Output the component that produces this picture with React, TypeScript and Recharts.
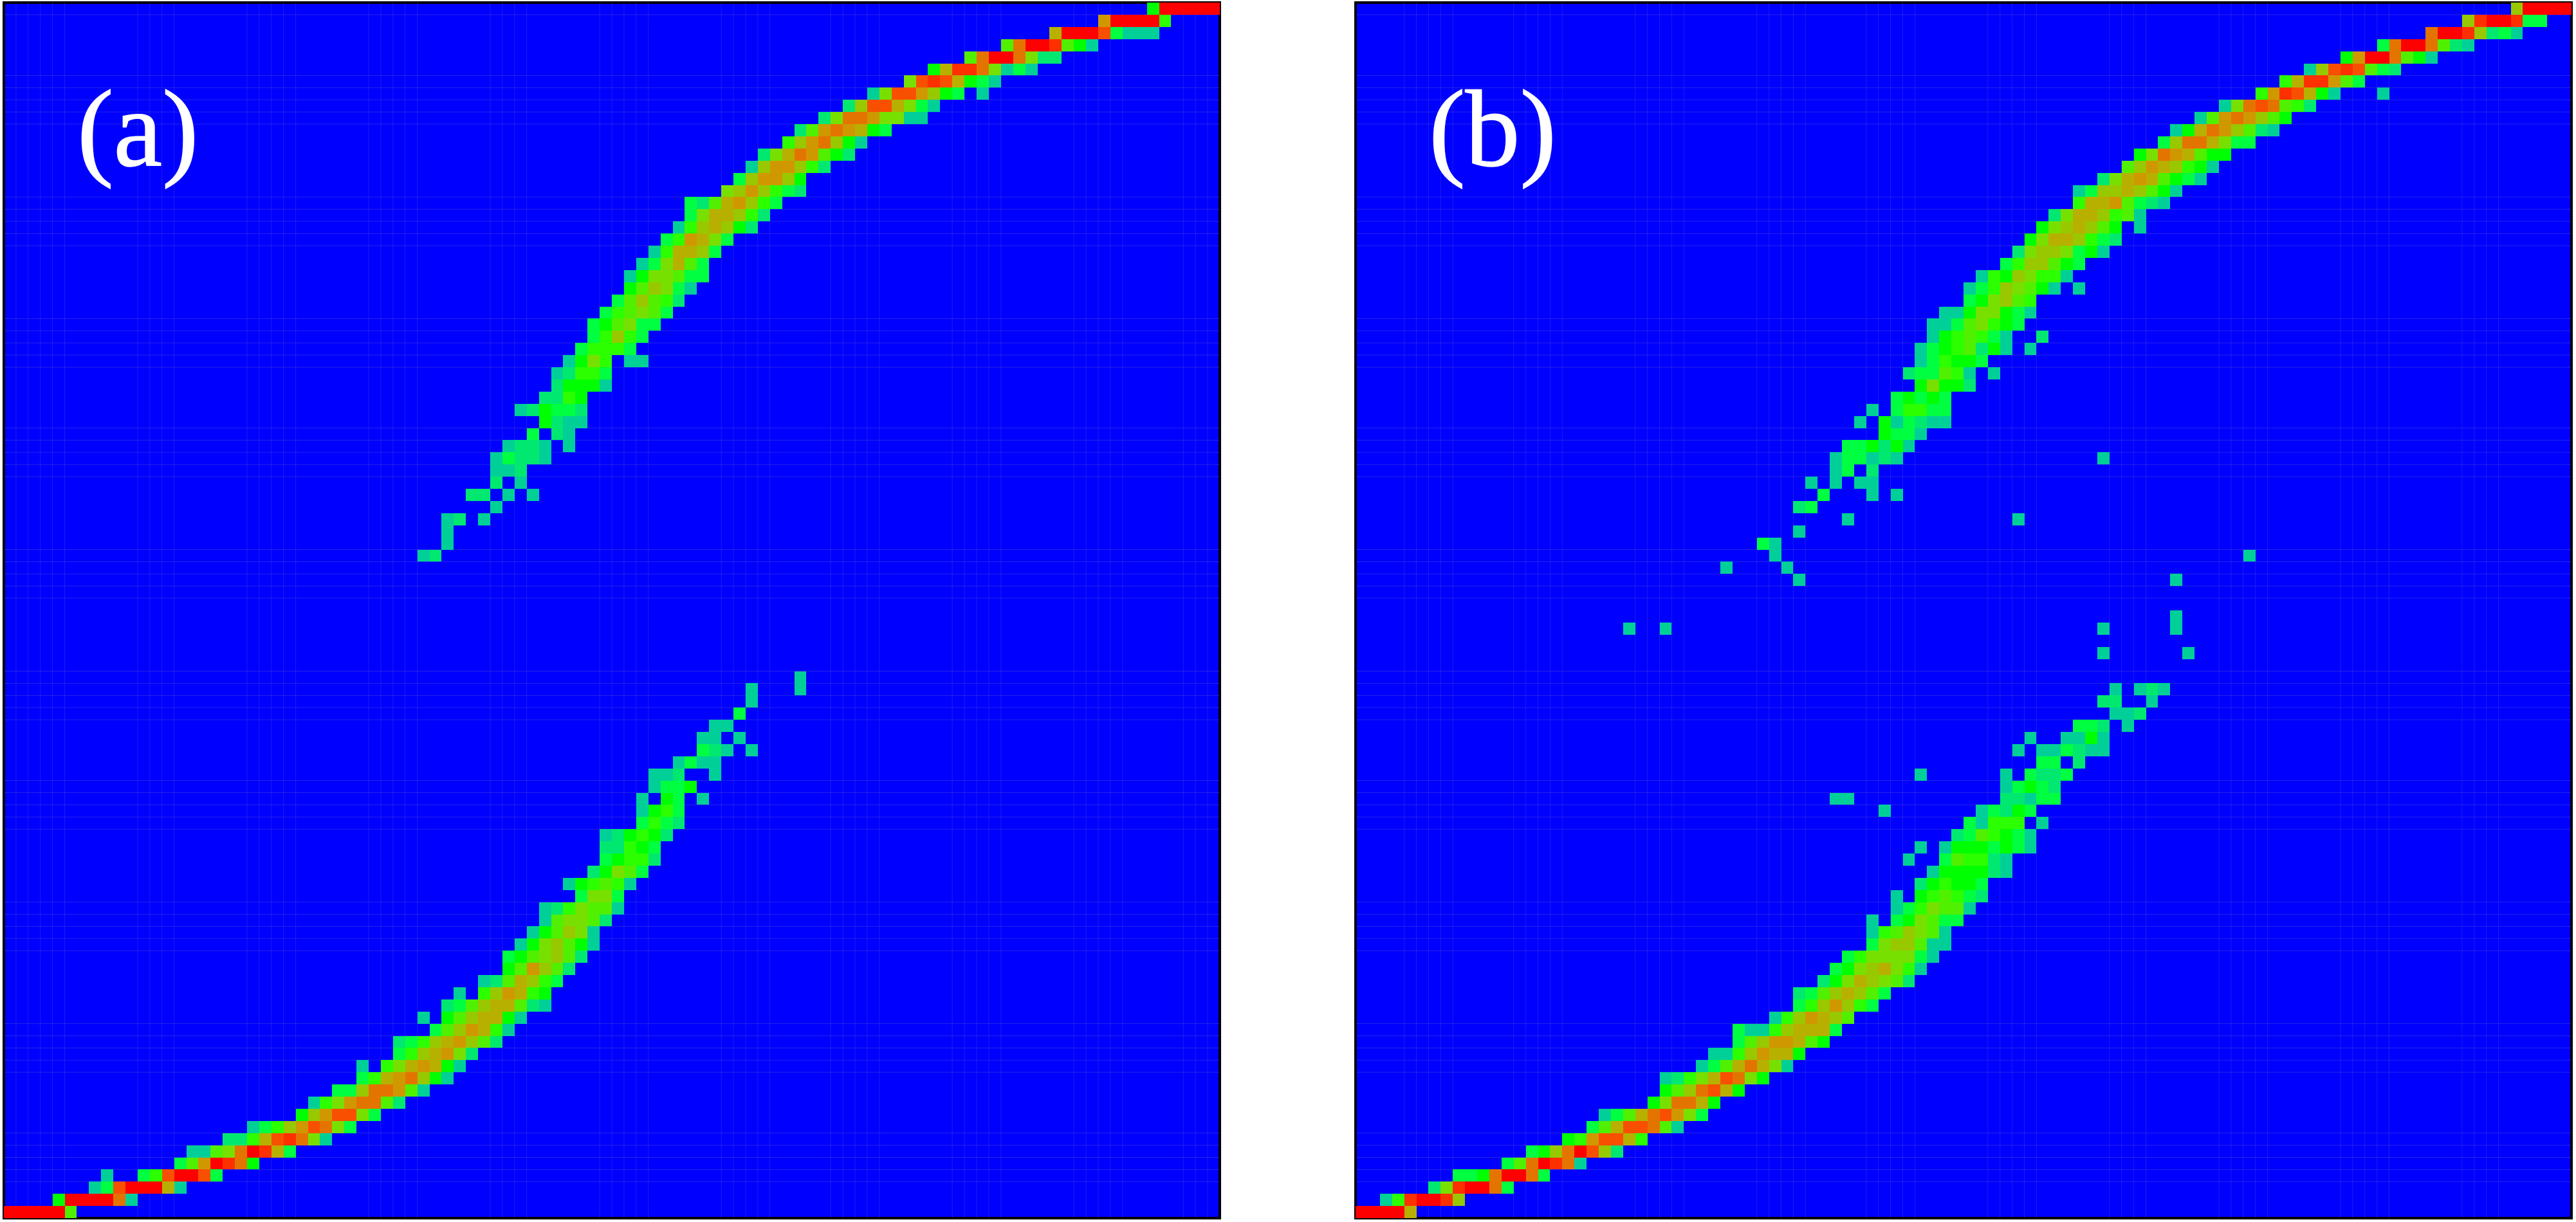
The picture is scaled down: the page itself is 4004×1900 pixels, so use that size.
import React from "react";
import { ScatterChart, Scatter, XAxis, YAxis, ReferenceArea, ReferenceLine } from "recharts";

// level colours, index 0 is "a" in the row strings
const levelColors = [
    "#00D098", "#00E870", "#00FF40", "#00FF00", "#2CFF00", "#50F000", "#78E000",
    "#98C800", "#B8B000", "#D09800", "#E47400", "#F85000", "#FF3000", "#FF0000",
];

// [row from bottom, first column, level letters], "." is an empty cell
type Row = [number, number, string];

const panelARows: Row[] = [
    [0, 0, "nnnnnf"], [1, 4, "dnnnnka"], [2, 7, "aclnnnia"], [3, 8, "a..celnnlc"],
    [4, 14, "cfjnmkd"], [5, 15, "aafgknmic"], [6, 18, "bbeilmkga"], [7, 20, "acehjlkgc"],
    [8, 24, "dhjllgc"], [9, 25, "aegjkkfb"], [10, 27, "cchkkjfa"], [11, 29, "ceijkhda"],
    [12, 29, "a.egijida"], [13, 32, "cehijgb"], [14, 32, "bcehijhfb"], [15, 35, "cfhjiea"],
    [16, 34, "a.dfhiida"], [17, 36, "bcfhiifba"], [18, 37, "a.ehjied"], [19, 39, "abfihec"],
    [20, 41, "dfjhfb"], [21, 41, "cdfghfb"], [22, 42, "adghfda"], [23, 43, "adfhga"],
    [24, 44, "afggfb"], [25, 44, "abegffa"], [26, 47, "cggc"], [27, 46, "adefea"],
    [28, 48, "bdgfc"], [29, 49, "cdeeb"], [30, 49, "bbedc"], [31, 49, "abdedb"],
    [32, 52, "cecb"], [33, 52, "adec"], [34, 52, "a.dc.a"], [35, 53, "accd"],
    [36, 53, "aab..a"], [37, 55, "acaa"], [38, 57, "cba.a"], [39, 57, "aa.a"],
    [40, 58, "aa"], [41, 60, "c"], [42, 61, "a"], [43, 61, "a"], [43, 65, "a"], [44, 65, "a"],
    [54, 34, "ab"], [55, 36, "a"], [56, 36, "a"], [57, 36, "ab.a"], [58, 40, "a"],
    [59, 38, "bb.a.a"], [60, 40, "b.a"], [61, 40, "aab"], [62, 40, "acbba"], [63, 41, "abba.a"],
    [64, 43, "c.ba"], [65, 44, "dbaa"], [66, 42, "abdccb"], [67, 44, "bbed"], [68, 45, "bddda"],
    [69, 45, "abeec"], [70, 46, "adge.aa"], [71, 47, "ceeec"], [72, 48, "cehec"], [73, 48, "cdfgcc"],
    [74, 49, "cefgfc"], [75, 50, "cfhfeb"], [76, 51, "dfhgca"], [77, 51, "adggfcc"], [78, 52, "acgifc"],
    [79, 53, "aeiihc"], [80, 54, "cejigc"], [81, 55, "aehihdb"], [82, 56, "cgiiheb"], [83, 56, "cbfijhec"],
    [84, 59, "ghjhecb"], [85, 60, "chjjhd"], [86, 61, "ahjjheb"], [87, 62, "bgikjfdb"], [88, 64, "ehjkhda"],
    [89, 65, "bfjkjidc"], [90, 67, "bgkkjggaa"], [91, 69, "bhlligca"], [92, 71, "aglljhdc.a"],
    [93, 74, "glmlidca"], [94, 76, "dimmkgaca"], [95, 79, "fknnkgbb"], [96, 82, "fknnmfda"],
    [97, 86, "innnlcaaa"], [98, 90, "jnnnne"], [99, 94, "dnnnnn"],
];

const panelBRows: Row[] = [
    [0, 0, "nnnni"], [1, 2, "aemnnmh"], [2, 6, "bgmnnkc"], [3, 8, "ccdknnkc"],
    [4, 12, "cfknmka"], [5, 14, "cdhknlhb"], [6, 17, "dejllie"], [7, 19, "cfillkfa"],
    [8, 20, "acfikljgc"], [9, 24, "dgkkid"], [10, 25, "dfhklid"], [11, 25, "abegilkgd"],
    [12, 28, "acfikiga"], [13, 29, "aaehjiid"], [14, 31, "cfhjjifd"], [15, 31, "caaehiiic"],
    [16, 34, "aehjihf"], [17, 36, "cehjhec"], [18, 36, "bcfhihfc"], [19, 38, "bdgihgfb"],
    [20, 39, "cdghigea"], [21, 40, "ceggggca"], [22, 42, "cghhfaa"], [23, 42, "aefhgfa"],
    [24, 42, "a.cdgfcc"], [25, 44, "acegffa"], [26, 44, "a.defecb"], [27, 46, "bdeddc"],
    [28, 47, "addddba"], [29, 45, "a..cfeeba"], [30, 46, "a.adddcdca"], [31, 49, "bcfedca"],
    [32, 50, "caeee.a"], [33, 43, "a"], [33, 51, "acbdc"], [34, 39, "aa"], [34, 53, "bbacc"],
    [35, 53, "acdcb"], [36, 46, "a"], [36, 53, "a.cbbc"], [37, 56, "cc.b"], [38, 54, "a.aacbaa"],
    [39, 55, "a"], [39, 58, "aada"], [40, 59, "ccb.a"], [41, 62, "aab"], [42, 61, "bb..a"],
    [43, 62, "a.aba"], [46, 61, "a"], [46, 68, "a"], [48, 22, "a"], [48, 25, "a"], [48, 61, "a"],
    [48, 67, "a"], [49, 67, "a"], [52, 36, "a"], [52, 67, "a"], [53, 30, "a"], [53, 35, "a"],
    [54, 34, "a"], [54, 73, "a"], [55, 33, "ca"], [56, 36, "a"], [57, 40, "a"], [57, 54, "a"],
    [58, 36, "bc"], [59, 38, "c"], [59, 42, "a.a"], [60, 37, "a.a.aa"], [61, 39, "ac.b"],
    [62, 39, "accaba"], [62, 61, "a"], [63, 40, "ccdbda"], [64, 43, "dcca"], [65, 41, "a.dacbaa"],
    [66, 42, "a.ceecc"], [67, 44, "cdcdc"], [68, 46, "dgddb"], [69, 45, "bccfea.a"], [70, 46, "aceddc"],
    [71, 46, "acdefbda.a"], [72, 47, "adefeca..b"], [73, 47, "aacfgedc"], [74, 48, "aadggdca"],
    [75, 50, "cdghfe"], [76, 50, "acehgfda.a"], [77, 51, "aedhgeea"], [78, 53, "cehhfdc"],
    [79, 54, "bghhgcda"], [80, 55, "dgiihecb"], [81, 56, "dghihfd.a"], [82, 57, "bgiihefa"],
    [83, 59, "eiijfcba"], [84, 59, "achhihfda"], [85, 61, "bgijifdca"], [86, 63, "fhjiheda"],
    [87, 64, "dgkjifdd"], [88, 66, "chkkigcc"], [89, 67, "adikjhfba"], [90, 69, "afjkjhfd"],
    [91, 71, "agklkfeb"], [92, 74, "ejmlida...a"], [93, 76, "eimmjfc"], [94, 78, "ahlmlfcb"],
    [95, 81, "djnnkfda"], [96, 84, "cknnkfba"], [97, 88, "knnmhbca"], [98, 91, "hmnnmcc"], [99, 95, "hnnnn"],
];

// faint lines left by the export, at these cell edges
const panelAColumnLines = [
    1, 2, 3, 4, 5, 11, 12, 13, 14, 20, 21, 22, 23, 24, 30, 31, 32, 33, 34, 40, 41, 42, 43,
    49, 50, 51, 52, 53, 59, 60, 61, 62, 63, 68, 69, 70, 71, 72, 78, 79, 80, 81, 82,
    88, 89, 90, 91, 92, 97, 98, 99,
];
const panelBColumnLines = [
    4, 5, 6, 7, 8, 13, 14, 15, 16, 17, 23, 24, 25, 26, 27, 33, 34, 35, 36, 37, 42, 43, 44, 45, 46,
    52, 53, 54, 55, 56, 62, 63, 64, 65, 71, 72, 73, 74, 75, 81, 82, 83, 84, 85, 91, 92, 93, 94,
];
const rowLines = [
    3, 4, 5, 6, 7, 12, 13, 14, 15, 16, 22, 23, 24, 25, 26, 32, 33, 34, 35, 36, 41, 42, 43, 44, 45,
    51, 52, 53, 54, 55, 61, 62, 63, 64, 65, 70, 71, 72, 73, 74, 80, 81, 82, 83, 84, 90, 91, 92, 93, 94, 99,
];

const CELL = 18.9;
const PLOT = 1890;
const PAD = 10;

const toCells = (rows: Row[]) =>
    rows.flatMap(([row, start, levels]) =>
        levels.split("").flatMap((ch, i) =>
            ch === "." ? [] : [{ col: start + i + 0.5, row: row + 0.5, level: ch.charCodeAt(0) - 97 }]
        )
    );

const CellShape = (props: any) => (
    <rect
        x={props.cx - CELL / 2}
        y={props.cy - CELL / 2}
        width={CELL}
        height={CELL}
        fill={levelColors[props.payload.level]}
        shapeRendering="crispEdges"
    />
);

const Panel = ({ left, top, rows, columnLines, label, labelLeft }: any) => (
    <>
        <div style={{ position: "absolute", left: left - PAD, top: top - PAD }}>
            <ScatterChart
                width={PLOT + 2 * PAD}
                height={PLOT + 2 * PAD}
                margin={{ top: PAD, right: PAD, bottom: PAD, left: PAD }}
            >
                <XAxis type="number" dataKey="col" domain={[0, 100]} hide />
                <YAxis type="number" dataKey="row" domain={[0, 100]} hide />
                <ReferenceArea x1={0} x2={100} y1={0} y2={100} fill="#0000FF" fillOpacity={1} stroke="none" />
                <Scatter data={toCells(rows)} shape={CellShape} isAnimationActive={false} />
                {columnLines.map((c: number) => (
                    <ReferenceLine key={`c${c}`} x={c} stroke="#9090A0" strokeOpacity={0.2} />
                ))}
                {rowLines.map((r: number) => (
                    <ReferenceLine key={`r${r}`} y={r} stroke="#9090A0" strokeOpacity={0.25} />
                ))}
                <ReferenceArea x1={0} x2={100} y1={0} y2={100} fill="none" stroke="#000000" strokeWidth={4} />
            </ScatterChart>
        </div>
        <div
            style={{
                position: "absolute",
                left: labelLeft,
                top: 100,
                fontFamily: "'Liberation Serif', 'Times New Roman', serif",
                fontSize: 170,
                lineHeight: "200px",
                color: "#FFFFFF",
                WebkitTextStroke: "1.5px #FFFFFF",
            }}
        >
            {label}
        </div>
    </>
);

export default function App() {
    return (
        <div style={{ position: "fixed", left: 0, top: 0, width: 4004, height: 1900, background: "#FFFFFF", overflow: "hidden" }}>
            <Panel left={5.6} top={4.4} rows={panelARows} columnLines={panelAColumnLines} label="(a)" labelLeft={120} />
            <Panel left={2107.4} top={4.4} rows={panelBRows} columnLines={panelBColumnLines} label="(b)" labelLeft={2221} />
        </div>
    );
}
